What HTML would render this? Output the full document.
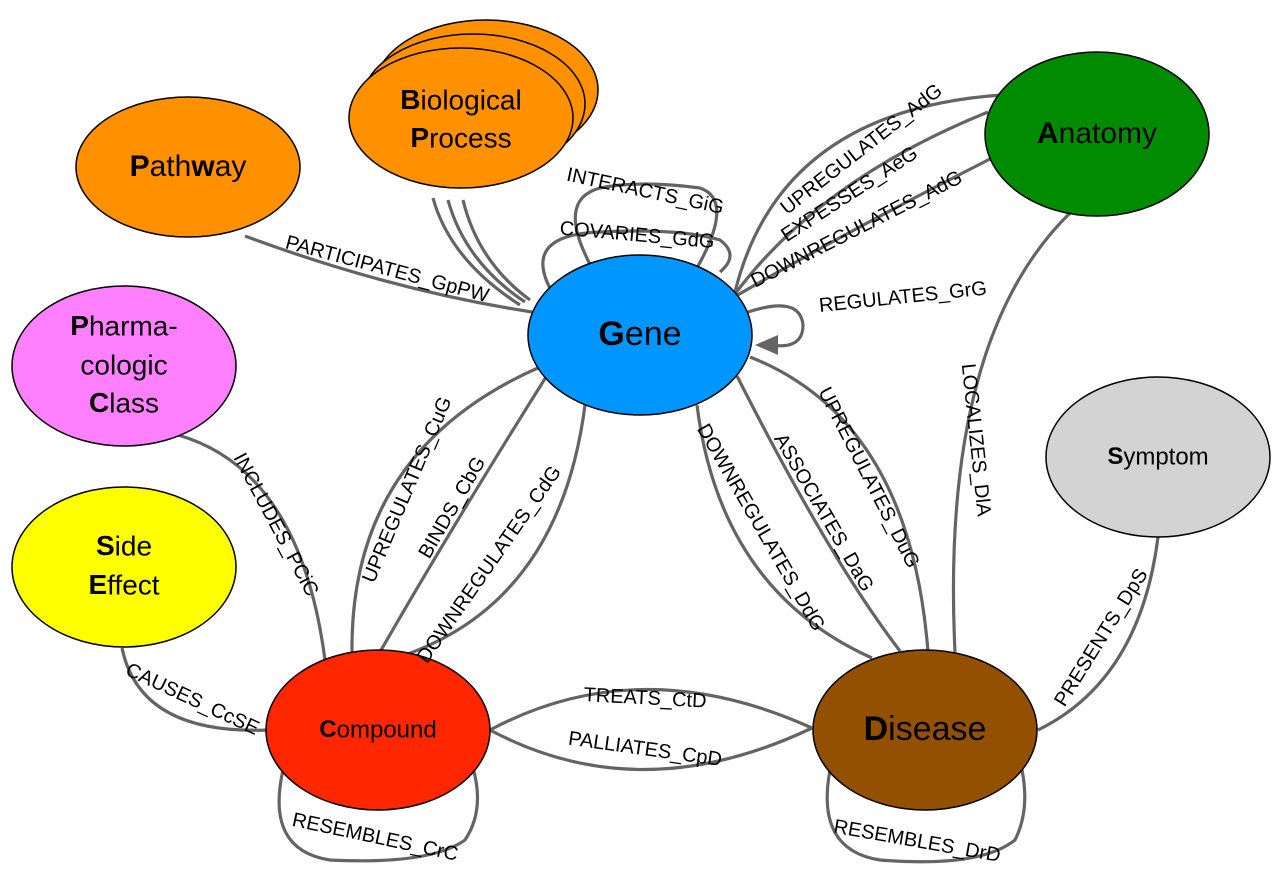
<!DOCTYPE html>
<html><head><meta charset="utf-8"><style>
html,body{margin:0;padding:0;background:#fff}
svg{display:block}
.e{fill:none;stroke:#646464;stroke-width:3.2}
.n{stroke:#000;stroke-width:1.5}
.l{font-family:"Liberation Sans",sans-serif;font-size:20px;fill:#000;text-anchor:middle;dominant-baseline:middle}
.t{font-family:"Liberation Sans",sans-serif;fill:#000;text-anchor:middle;dominant-baseline:middle}
</style></head><body>
<svg width="1283" height="879" viewBox="0 0 1283 879" xmlns="http://www.w3.org/2000/svg">
<!-- edges -->
<path class="e" d="M245 236 Q390 290 532 312"/>
<path class="e" d="M433 198 Q450 260 520 305"/>
<path class="e" d="M448 200 Q465 262 525 302"/>
<path class="e" d="M463 200 Q478 262 530 300"/>
<path class="e" d="M592 268 Q555 200 600 188 Q640 180 700 188 Q735 200 697 268"/>
<path class="e" d="M552 292 Q520 235 600 232 Q680 228 720 240 Q740 255 720 272"/>
<path class="e" d="M735 292 Q780 110 1002 95"/>
<path class="e" d="M735 294 Q820 180 988 112"/>
<path class="e" d="M736 296 Q850 230 992 158"/>
<path class="e" d="M748 312 Q800 295 803 325 Q803 350 770 345"/>
<polygon points="755,345 778,335 778,355" fill="#646464"/>
<path class="e" d="M1070 213 Q940 340 955 652"/>
<path class="e" d="M750 357 Q910 420 928 652"/>
<path class="e" d="M737 376 Q830 560 900 651"/>
<path class="e" d="M697 405 Q720 590 872 658"/>
<path class="e" d="M540 367 Q350 450 352 652"/>
<path class="e" d="M546 377 Q450 530 380 652"/>
<path class="e" d="M585 405 Q560 600 405 655"/>
<path class="e" d="M178 435 Q300 470 325 660"/>
<path class="e" d="M122 648 Q140 735 268 730"/>
<path class="e" d="M490 730 Q640 650 812 728"/>
<path class="e" d="M490 730 Q640 810 812 728"/>
<path class="e" d="M283 770 Q265 850 330 860 Q430 865 465 840 Q485 810 473 768"/>
<path class="e" d="M830 770 Q815 850 880 860 Q980 868 1015 840 Q1030 810 1022 770"/>
<path class="e" d="M1158 537 Q1140 680 1038 730"/>
<!-- nodes -->
<ellipse class="n" cx="188" cy="167" rx="112" ry="70" fill="#ff9100"/>
<ellipse class="n" cx="486" cy="90" rx="112" ry="70" fill="#ff9100"/>
<ellipse class="n" cx="473" cy="104" rx="112" ry="70" fill="#ff9100"/>
<ellipse class="n" cx="461" cy="118" rx="112" ry="70" fill="#ff9100"/>
<ellipse class="n" cx="1097" cy="134" rx="112" ry="82" fill="#008b00"/>
<ellipse class="n" cx="640" cy="335" rx="112" ry="80" fill="#0096ff"/>
<ellipse class="n" cx="124" cy="366" rx="112" ry="80" fill="#ff80ff"/>
<ellipse class="n" cx="124" cy="567" rx="112" ry="80" fill="#ffff00"/>
<ellipse class="n" cx="1158" cy="457" rx="112" ry="80" fill="#d3d3d3"/>
<ellipse class="n" cx="378" cy="730" rx="112" ry="80" fill="#ff2600"/>
<ellipse class="n" cx="925" cy="730" rx="112" ry="80" fill="#935100"/>
<!-- node labels -->
<text class="t" x="188" y="168" font-size="30"><tspan font-weight="bold">P</tspan>ath<tspan font-weight="bold">w</tspan>ay</text>
<text class="t" x="461" y="102" font-size="28"><tspan font-weight="bold">B</tspan>iological</text>
<text class="t" x="461" y="140" font-size="28"><tspan font-weight="bold">P</tspan>rocess</text>
<text class="t" x="1097" y="135" font-size="30"><tspan font-weight="bold">A</tspan>natomy</text>
<text class="t" x="640" y="336" font-size="34"><tspan font-weight="bold">G</tspan>ene</text>
<text class="t" x="124" y="328" font-size="28"><tspan font-weight="bold">P</tspan>harma-</text>
<text class="t" x="124" y="367" font-size="28">cologic</text>
<text class="t" x="124" y="405" font-size="28"><tspan font-weight="bold">C</tspan>lass</text>
<text class="t" x="124" y="548" font-size="28"><tspan font-weight="bold">S</tspan>ide</text>
<text class="t" x="124" y="587" font-size="28"><tspan font-weight="bold">E</tspan>ffect</text>
<text class="t" x="1158" y="458" font-size="24"><tspan font-weight="bold">S</tspan>ymptom</text>
<text class="t" x="378" y="731" font-size="24"><tspan font-weight="bold">C</tspan>ompound</text>
<text class="t" x="925" y="731" font-size="34"><tspan font-weight="bold">D</tspan>isease</text>
<!-- edge labels -->
<text class="l" transform="translate(387,270) rotate(15)">PARTICIPATES_GpPW</text>
<text class="l" font-size="18" transform="translate(645,192) rotate(12)">INTERACTS_GiG</text>
<text class="l" font-size="18" transform="translate(637,236) rotate(5)">COVARIES_GdG</text>
<text class="l" transform="translate(862,150) rotate(-38)">UPREGULATES_AdG</text>
<text class="l" font-size="24" transform="translate(850,195) rotate(-33)">EXPESSES_AeG</text>
<text class="l" font-size="18" transform="translate(857,230) rotate(-27)">DOWNREGULATES_AdG</text>
<text class="l" font-size="18" transform="translate(903,298) rotate(-6)">REGULATES_GrG</text>
<text class="l" transform="translate(975,440) rotate(84)">LOCALIZES_DlA</text>
<text class="l" transform="translate(868,478) rotate(63)">UPREGULATES_DuG</text>
<text class="l" transform="translate(823,513) rotate(60)">ASSOCIATES_DaG</text>
<text class="l" transform="translate(760,528) rotate(60)">DOWNREGULATES_DdG</text>
<text class="l" transform="translate(408,490) rotate(-67)">UPREGULATES_CuG</text>
<text class="l" transform="translate(453,508) rotate(-60)">BINDS_CbG</text>
<text class="l" font-size="18" transform="translate(490,565) rotate(-55)">DOWNREGULATES_CdG</text>
<text class="l" transform="translate(275,525) rotate(62)">INCLUDES_PCiC</text>
<text class="l" transform="translate(192,700) rotate(25)">CAUSES_CcSE</text>
<text class="l" font-size="22" transform="translate(645,699) rotate(3)">TREATS_CtD</text>
<text class="l" font-size="22" transform="translate(645,750) rotate(8)">PALLIATES_CpD</text>
<text class="l" transform="translate(375,838) rotate(12)">RESEMBLES_CrC</text>
<text class="l" transform="translate(917,842) rotate(10)">RESEMBLES_DrD</text>
<text class="l" transform="translate(1102,638) rotate(-58)">PRESENTS_DpS</text>
</svg>
</body></html>
